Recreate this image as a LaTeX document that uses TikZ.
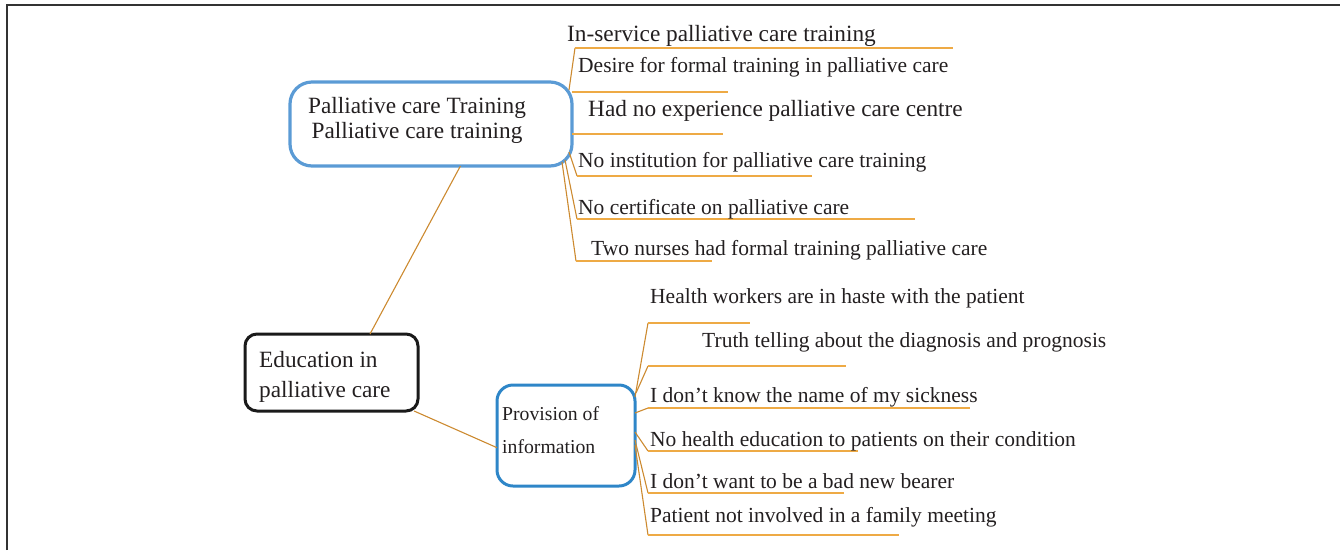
\documentclass[tikz,border=0pt]{standalone}
\usepackage{fontspec}
\setmainfont{Liberation Serif}
\usetikzlibrary{calc}
\definecolor{trblue}{HTML}{5B9BD5}
\definecolor{infoblue}{HTML}{2E86C8}
\definecolor{edublack}{HTML}{1A1A1A}
\definecolor{slantcol}{HTML}{CC8A30}
\definecolor{ulinecol}{HTML}{EEAA45}
\definecolor{ink}{HTML}{231F20}
\definecolor{framecol}{HTML}{333333}
\begin{document}
\begin{tikzpicture}[x=1pt,y=-1pt,
  box/.style={draw, rectangle, line width=3pt, inner sep=0pt, outer sep=0pt},
  bigtxt/.style={font=\fontsize{23.3}{28}\selectfont, text=ink, inner sep=0pt},
  txt/.style={font=\fontsize{21.5}{26}\selectfont, text=ink, inner sep=0pt},
  smalltxt/.style={font=\fontsize{19.7}{24}\selectfont, text=ink, inner sep=0pt},
  conn/.style={draw=slantcol, line width=1.1pt},
  uline/.style={draw=ulinecol, line width=1.1pt},
  frameline/.style={draw=framecol, line width=2pt}
]
\useasboundingbox (0,0) rectangle (1340,550);
\draw[frameline] (7,550) -- (7,5) -- (1340,5);

% boxes
\node[box, draw=trblue, line width=3.2pt, rounded corners=22pt, minimum width=282pt, minimum height=84pt] (tr) at (431,124) {};
\node[box, draw=edublack, rounded corners=12pt, minimum width=173pt, minimum height=77pt] (edu) at (331.5,372.5) {};
\node[box, draw=infoblue, rounded corners=16pt, minimum width=138pt, minimum height=101pt] (info) at (566,435.5) {};

% box texts
\node[bigtxt, anchor=base] (trt1) at (417,113) {Palliative care Training};
\node[bigtxt, anchor=base] (trt2) at (417,138) {Palliative care training};
\node[bigtxt, anchor=base west] (edut1) at (259,367) {Education in};
\node[bigtxt, anchor=base west] (edut2) at (259,397) {palliative care};
\node[smalltxt, anchor=base west] (infot1) at (502,420) {Provision of};
\node[smalltxt, anchor=base west] (infot2) at (502,453) {information};

% main connectors
\draw[conn] (edu.45) -- (tr.-55.4);
\draw[conn] (edu.-25) -- (info.190.8);

% training branches
\coordinate (u1) at (575,48);  \coordinate (v1) at (953,48);
\coordinate (v2) at (728,92);
\coordinate (v3) at (723,134);
\coordinate (u4) at (577,176); \coordinate (v4) at (812,176);
\coordinate (u5) at (577,219); \coordinate (v5) at (915,219);
\coordinate (u6) at (576,261); \coordinate (v6) at (712,261);

\draw[conn] ($(tr.north east)+(-3,8)$) -- (u1);
\draw[uline] (u1) -- (v1);
\draw[uline] ($(tr.north east)+(0,10)$) -- (v2);
\draw[uline] ($(tr.east)+(0,10)$) -- (v3);
\draw[conn] ($(tr.south east)+(-3,-14)$) -- (u4);
\draw[uline] (u4) -- (v4);
\draw[conn] ($(tr.south east)+(-7,-6)$) -- (u5);
\draw[uline] (u5) -- (v5);
\draw[conn] ($(tr.south east)+(-10,-4)$) -- (u6);
\draw[uline] (u6) -- (v6);

\node[bigtxt, anchor=base west] (b1t) at (567,41) {In-service palliative care training};
\node[txt, anchor=base west] (b2t) at (578,72) {Desire for formal training in palliative care};
\node[bigtxt, anchor=base west] (b3t) at (588,116) {Had no experience palliative care centre};
\node[txt, anchor=base west] (b4t) at (578,167) {No institution for palliative care training};
\node[txt, anchor=base west] (b5t) at (578,214) {No certificate on palliative care};
\node[txt, anchor=base west] (b6t) at (591,255) {Two nurses had formal training palliative care};

% information branches
\coordinate (p1) at (648,323); \coordinate (q1) at (750,323);
\coordinate (p2) at (648,366); \coordinate (q2) at (846,366);
\coordinate (p3) at (648,408); \coordinate (q3) at (970,408);
\coordinate (p4) at (648,451); \coordinate (q4) at (858,451);
\coordinate (p5) at (648,493); \coordinate (q5) at (844,493);
\coordinate (p6) at (648,535); \coordinate (q6) at (899,535);

\draw[conn] ($(info.north east)+(0,12)$) -- (p1);
\draw[uline] (p1) -- (q1);
\draw[conn] ($(info.north east)+(1,8)$) -- (p2);
\draw[uline] (p2) -- (q2);
\draw[conn] ($(info.east)+(0,-22.5)$) -- (p3);
\draw[uline] (p3) -- (q3);
\draw[conn] ($(info.east)+(0,-3.5)$) -- (p4);
\draw[uline] (p4) -- (q4);
\draw[conn] ($(info.east)+(0,4.5)$) -- (p5);
\draw[uline] (p5) -- (q5);
\draw[conn] ($(info.east)+(0,9.5)$) -- (p6);
\draw[uline] (p6) -- (q6);

\node[txt, anchor=base west] (i1t) at (650,303) {Health workers are in haste with the patient};
\node[txt, anchor=base west] (i2t) at (702,347) {Truth telling about the diagnosis and prognosis};
\node[txt, anchor=base west] (i3t) at (650,402) {I don’t know the name of my sickness};
\node[txt, anchor=base west] (i4t) at (650,446) {No health education to patients on their condition};
\node[txt, anchor=base west] (i5t) at (650,488) {I don’t want to be a bad new bearer};
\node[txt, anchor=base west] (i6t) at (650,522) {Patient not involved in a family meeting};
\end{tikzpicture}
\end{document}
